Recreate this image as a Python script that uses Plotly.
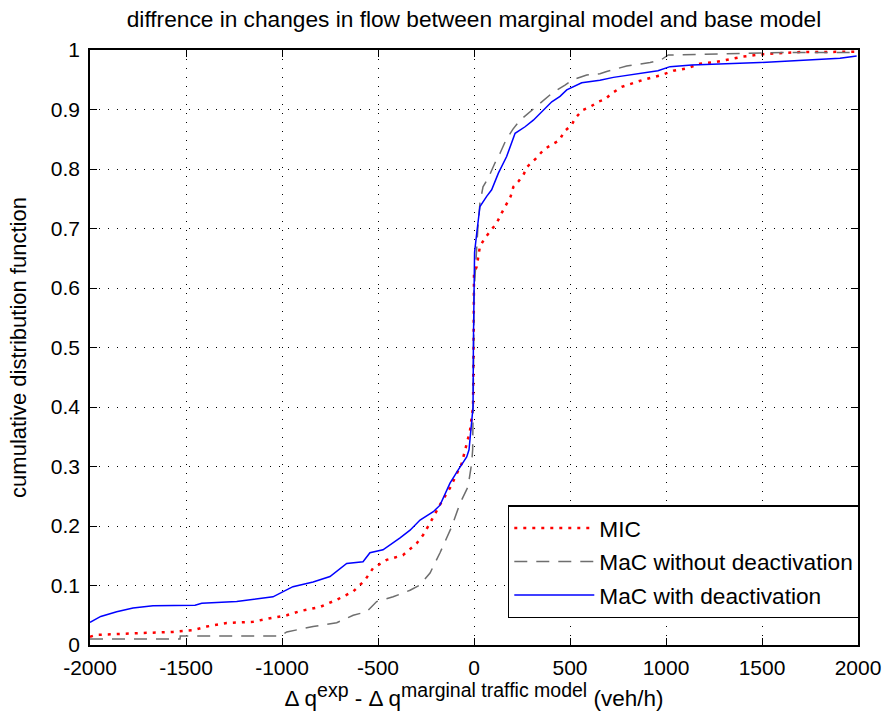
import plotly.graph_objects as go

# ---- data ----
mic_x = [-2000, -1965, -1740, -1567, -1463, -1392, -1288, -1151, -1062, -975, -906, -802, -715, -663, -629,
         -568, -526, -455, -370, -298, -265, -229, -177, -125, -64, -21, -5, -2, 0, 14, 31, 57, 87, 118, 144,
         167, 191, 205, 231, 257, 278, 323, 365, 410, 444, 470, 509, 526, 566, 608, 647, 682, 717, 769,
         821, 882, 977, 1038, 1108, 1177, 1264, 1368, 1403, 1507, 1698, 2000]
mic_y = [0.014, 0.017, 0.020, 0.022, 0.025, 0.031, 0.037, 0.039, 0.045, 0.050, 0.057, 0.064, 0.076, 0.084, 0.090,
         0.109, 0.129, 0.143, 0.151, 0.171, 0.185, 0.205, 0.236, 0.264, 0.305, 0.36, 0.40, 0.51, 0.625, 0.636,
         0.670, 0.684, 0.697, 0.709, 0.726, 0.739, 0.754, 0.770, 0.779, 0.790, 0.804, 0.818, 0.833, 0.842, 0.848,
         0.863, 0.874, 0.885, 0.899, 0.905, 0.913, 0.917, 0.927, 0.938, 0.944, 0.950, 0.958, 0.965, 0.969,
         0.977, 0.980, 0.986, 0.989, 0.993, 0.9966, 0.997]

mac_nodeact_x = [-2000, -1531, -1530, -1010, -975, -838, -715, -629, -559, -507, -421, -333, -281, -229, -177,
                 -135, -116, -73, -31, -12, -7, -3, 0, 20, 31, 47, 73, 109, 135, 167, 203, 240, 292, 361, 405,
                 474, 516, 587, 656, 691, 795, 917, 977, 1012, 1385, 1628, 2000]
mac_nodeact_y = [0.010, 0.010, 0.015, 0.015, 0.022, 0.031, 0.0375, 0.050, 0.056, 0.073, 0.081, 0.092, 0.101,
                 0.121, 0.155, 0.185, 0.199, 0.238, 0.266, 0.306, 0.328, 0.45, 0.59, 0.70, 0.743, 0.770, 0.784,
                 0.810, 0.826, 0.849, 0.867, 0.882, 0.896, 0.916, 0.927, 0.941, 0.950, 0.958, 0.960, 0.964,
                 0.973, 0.979, 0.984, 0.9916, 0.9944, 0.996, 0.996]

mac_deact_x = [-2000, -1944, -1861, -1776, -1672, -1453, -1418, -1236, -1047, -995, -943, -838, -750, -663,
               -578, -542, -474, -385, -333, -281, -212, -177, -125, -83, -38, -26, -5, -3, 0, 3, 16, 31, 66,
               92, 127, 170, 214, 266, 309, 361, 405, 448, 483, 561, 656, 726, 830, 899, 958, 1021, 1134,
               1490, 1646, 1906, 1993]
mac_deact_y = [0.038, 0.048, 0.056, 0.062, 0.066, 0.067, 0.070, 0.073, 0.081, 0.090, 0.098, 0.106, 0.115,
               0.137, 0.140, 0.155, 0.160, 0.180, 0.193, 0.210, 0.224, 0.235, 0.272, 0.294, 0.316, 0.328,
               0.40, 0.51, 0.60, 0.66, 0.697, 0.737, 0.754, 0.765, 0.793, 0.821, 0.860, 0.871, 0.882, 0.899,
               0.913, 0.922, 0.933, 0.945, 0.949, 0.954, 0.959, 0.962, 0.965, 0.972, 0.975, 0.979, 0.982,
               0.986, 0.990]

x_tickvals = [-2000, -1500, -1000, -500, 0, 500, 1000, 1500, 2000]
x_ticktext = ["-2000", "-1500", "-1000", "-500", "0", "500", "1000", "1500", "2000"]
y_tickvals = [0, 0.1, 0.2, 0.3, 0.4, 0.5, 0.6, 0.7, 0.8, 0.9, 1]
y_ticktext = ["0", "0.1", "0.2", "0.3", "0.4", "0.5", "0.6", "0.7", "0.8", "0.9", "1"]

FONT = "Liberation Sans, Arial, sans-serif"

fig = go.Figure()
fig.add_trace(go.Scatter(x=mic_x, y=mic_y, mode="lines", name="MIC", legendgroup="a",
                         line=dict(color="#ff0000", width=2.5, dash="3px,6px")))
fig.add_trace(go.Scatter(x=mac_nodeact_x, y=mac_nodeact_y, mode="lines", name="MaC without deactivation",
                         legendgroup="b",
                         line=dict(color="#6e6e6e", width=1.5, dash="13px,9px")))
fig.add_trace(go.Scatter(x=mac_deact_x, y=mac_deact_y, mode="lines", name="MaC with deactivation",
                         legendgroup="c",
                         line=dict(color="#0000ff", width=1.5)))

axis_common = dict(
    showline=True, linecolor="black", linewidth=1.5, mirror="ticks",
    ticks="inside", ticklen=7, tickwidth=1, tickcolor="black",
    showgrid=True, gridcolor="black", gridwidth=1, griddash="1px,8px",
    zeroline=False, tickfont=dict(family=FONT, size=21, color="black"),
)

sup = '<sup><span style="font-size:19.5px">{}</span></sup>'
xlabel = "Δ q" + sup.format("exp") + " - Δ q" + sup.format("marginal traffic model") + " (veh/h)"

fig.update_xaxes(range=[-2000, 2000], tickvals=x_tickvals, ticktext=x_ticktext, ticklabelstandoff=3,
                 title=dict(text=xlabel, font=dict(family=FONT, size=22.5, color="black"), standoff=6),
                 **axis_common)
fig.update_yaxes(range=[0, 1], tickvals=y_tickvals, ticktext=y_ticktext, ticklabelstandoff=4,
                 title=dict(text="cumulative distribution function",
                            font=dict(family=FONT, size=22, color="black"), standoff=18),
                 **axis_common)

fig.update_layout(
    width=886, height=713,
    margin=dict(l=90, r=28, t=50, b=68, autoexpand=False),
    paper_bgcolor="white", plot_bgcolor="white",
    title=dict(text="diffrence in changes in flow between marginal model and base model",
               font=dict(family=FONT, size=22.7, color="black"),
               x=0.5, xref="paper", xanchor="center", y=1 - 19 / 713, yref="container", yanchor="middle"),
    legend=dict(x=0.544, y=0.235, xanchor="left", yanchor="top",
                bgcolor="white", bordercolor="black", borderwidth=1.5,
                font=dict(family=FONT, size=22.7, color="black"),
                tracegroupgap=1, itemwidth=80),
    showlegend=True,
)

fig.write_html("out.html")
